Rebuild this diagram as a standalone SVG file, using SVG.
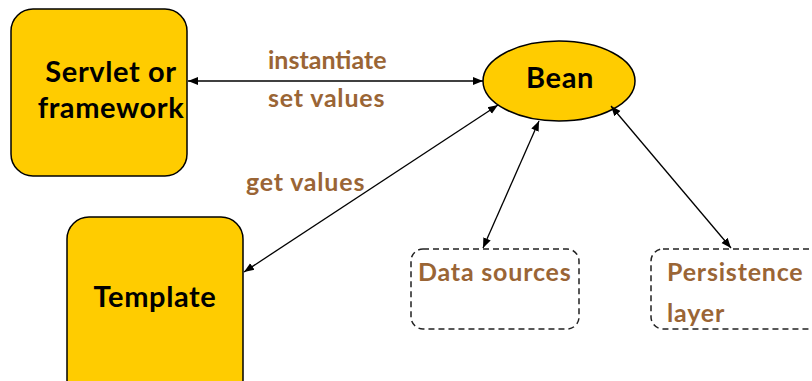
<svg xmlns="http://www.w3.org/2000/svg" width="812" height="381" viewBox="0 0 812 381">
<defs>
<marker id="ah" viewBox="0 0 10 10" refX="10" refY="5" markerWidth="10" markerHeight="10" markerUnits="userSpaceOnUse" orient="auto-start-reverse">
<path d="M0,1 L10,5 L0,9 z" fill="#000"/>
</marker>
<style>
.solid{fill:#FFCC00;stroke:#000;stroke-width:1.5}
.dash{fill:none;stroke:#222;stroke-width:1.5;stroke-dasharray:6,4}
.nt{font-family:Lato,"Liberation Sans",sans-serif;font-weight:bold;font-size:29px;letter-spacing:0.6px;fill:#000;text-anchor:middle}
.lt{font-family:Lato,"Liberation Sans",sans-serif;font-weight:bold;font-size:25px;fill:#9A6535}
.bl{letter-spacing:0.8px}
.cn{stroke:#000;stroke-width:1.3;fill:none;marker-start:url(#ah);marker-end:url(#ah)}
</style>
</defs>
<rect width="812" height="381" fill="#fff"/>
<g id="servlet">
<rect class="solid" x="11" y="9" width="176" height="167" rx="22"/>
<text class="nt" x="111" y="82">Servlet or</text>
<text class="nt" x="111" y="118">framework</text>
</g>
<g id="template">
<rect class="solid" x="67" y="217" width="176" height="185" rx="22"/>
<text class="nt" x="155" y="307">Template</text>
</g>
<g id="bean">
<ellipse class="solid" cx="559" cy="81" rx="76" ry="40"/>
<text class="nt" x="560" y="88">Bean</text>
</g>
<g id="datasources">
<rect class="dash" x="411" y="249" width="168" height="80" rx="12"/>
<text class="lt bl" x="418" y="281">Data sources</text>
</g>
<g id="persistence">
<rect class="dash" x="651" y="249" width="180" height="80" rx="12"/>
<text class="lt bl" x="667" y="281">Persistence</text>
<text class="lt bl" x="667" y="322">layer</text>
</g>
<g id="connectors">
<line class="cn" x1="188" y1="81" x2="483" y2="81"/>
<line class="cn" x1="244" y1="272" x2="498" y2="105"/>
<line class="cn" x1="483" y1="248" x2="539" y2="121"/>
<line class="cn" x1="731" y1="248" x2="611" y2="106"/>
<text class="lt" x="268" y="69">instantiate</text>
<text class="lt bl" x="268" y="107">set values</text>
<text class="lt bl" x="246" y="191">get values</text>
</g>
</svg>
